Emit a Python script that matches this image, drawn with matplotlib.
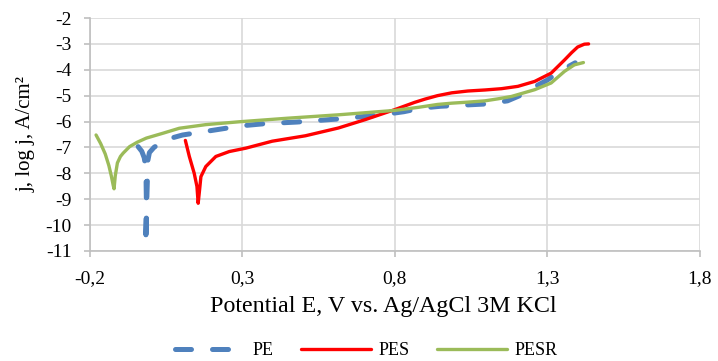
import matplotlib
matplotlib.use("Agg")
import matplotlib.pyplot as plt
from matplotlib.ticker import FuncFormatter

plt.rcParams['font.family'] = ['Liberation Serif', 'DejaVu Serif']

# PE (blue dashed)
pe_x = [-0.042, -0.030, -0.022, -0.018, -0.016, -0.015, -0.016, -0.017, -0.015, -0.013,
        -0.011, -0.010, -0.005, 0.010, 0.039, 0.070, 0.104, 0.175, 0.246, 0.311, 0.376,
        0.479, 0.615, 0.757, 0.830, 0.887, 0.950, 1.000, 1.100, 1.170, 1.220, 1.260,
        1.300, 1.350, 1.392]
pe_y = [-6.97, -7.15, -7.40, -7.70, -8.20, -9.00, -10.00, -10.77, -9.80, -8.80,
        -8.00, -7.50, -7.20, -7.00, -6.77, -6.63, -6.52, -6.39, -6.26, -6.15, -6.08,
        -6.02, -5.90, -5.74, -5.62, -5.48, -5.41, -5.38, -5.32, -5.20, -4.95, -4.65,
        -4.40, -4.00, -3.73]

# PES (red)
pes_x = [0.113, 0.126, 0.142, 0.151, 0.155, 0.160, 0.164, 0.180, 0.213, 0.257, 0.311,
         0.398, 0.507, 0.615, 0.702, 0.800, 0.865, 0.900, 0.940, 0.987, 1.040, 1.096,
         1.150, 1.204, 1.259, 1.313, 1.357, 1.380, 1.400, 1.422, 1.436]
pes_y = [-6.73, -7.35, -8.00, -8.51, -9.16, -8.60, -8.13, -7.74, -7.35, -7.16, -7.03,
         -6.76, -6.55, -6.25, -5.93, -5.54, -5.26, -5.13, -5.00, -4.89, -4.82, -4.78,
         -4.73, -4.64, -4.45, -4.13, -3.62, -3.34, -3.12, -3.01, -3.00]

# PESR (green)
pesr_x = [-0.180, -0.165, -0.150, -0.138, -0.130, -0.124, -0.121, -0.117, -0.110, -0.100,
          -0.091, -0.070, -0.045, -0.015, 0.040, 0.093, 0.180, 0.289, 0.450, 0.615, 0.800,
          0.878, 0.940, 0.987, 1.040, 1.096, 1.140, 1.183, 1.259, 1.313, 1.357, 1.389, 1.419]
pesr_y = [-6.52, -6.85, -7.25, -7.70, -8.10, -8.45, -8.60, -8.10, -7.60, -7.35,
          -7.22, -6.97, -6.80, -6.64, -6.45, -6.26, -6.12, -6.01, -5.87, -5.74, -5.57,
          -5.45, -5.34, -5.29, -5.25, -5.20, -5.12, -5.03, -4.77, -4.51, -4.06, -3.81, -3.72]

x_ticks = [-0.2, 0.3, 0.8, 1.3, 1.8]
y_ticks = [-2, -3, -4, -5, -6, -7, -8, -9, -10, -11]

fig = plt.figure(figsize=(7.18, 3.61), dpi=100)
ax = fig.add_axes([0.1253, 0.305, 0.849, 0.645])

ax.plot(pe_x, pe_y, color='#4F81BD', lw=3.6, ls=(0, (3.2, 4.2)),
        dash_capstyle='round', label='PE', zorder=3)
ax.plot(pes_x, pes_y, color='#FF0000', lw=2.4, label='PES', zorder=4,
        solid_capstyle='round', solid_joinstyle='round')
ax.plot(pesr_x, pesr_y, color='#9BBB59', lw=2.4, label='PESR', zorder=5,
        solid_capstyle='round', solid_joinstyle='round')

ax.set_xlim(-0.2, 1.8)
ax.set_ylim(-11, -2)
ax.set_xticks(x_ticks)
ax.set_yticks(y_ticks)
ax.xaxis.set_major_formatter(FuncFormatter(lambda v, p: ('%.1f' % v).replace('.', ',')))
ax.yaxis.set_major_formatter(FuncFormatter(lambda v, p: '%d' % v))
ax.grid(True, color='#D9D9D9', lw=1.2)
ax.set_axisbelow(True)
for s in ['top', 'right']:
    ax.spines[s].set_visible(False)
for s in ['left', 'bottom']:
    ax.spines[s].set_color('#BFBFBF')
    ax.spines[s].set_linewidth(1.2)
ax.tick_params(axis='both', direction='out', length=4, width=1.2, color='#BFBFBF',
               labelsize=14, labelcolor='#000000')
ax.tick_params(axis='x', pad=10)
ax.tick_params(axis='y', pad=9)

ax.set_xlabel('Potential E, V vs. Ag/AgCl 3M KCl', fontsize=17.3)
ax.xaxis.set_label_coords(0.482, -0.195)
ax.set_ylabel('j, log j, A/cm²', fontsize=15, labelpad=7)

leg = fig.legend(loc='center', bbox_to_anchor=(0.51, 0.028), ncol=3, frameon=False,
                 fontsize=13, handlelength=3.9, columnspacing=1.5, handletextpad=0.4)

fig.savefig('out.png', dpi=100)
